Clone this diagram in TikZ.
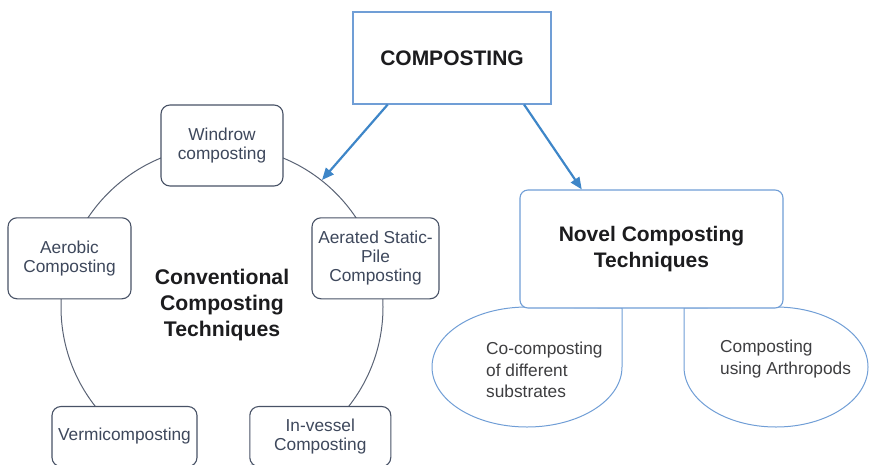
\documentclass[tikz,border=0pt]{standalone}
\usepackage{fontspec}
\setmainfont{Liberation Sans}
\usetikzlibrary{arrows.meta,calc}
\definecolor{flowblue}{RGB}{62,134,200}
\definecolor{paleblue}{RGB}{112,158,214}
\definecolor{slateline}{RGB}{72,82,102}
\definecolor{labelgray}{RGB}{62,72,92}
\definecolor{headblack}{RGB}{28,28,30}

\begin{document}
\begin{tikzpicture}[x=1pt,y=1pt,yscale=-1,
  techbox/.style={draw=slateline,line width=1.1pt,rounded corners=9pt,fill=white,text=labelgray,align=center,inner sep=0pt,font=\fontsize{17.3}{19}\selectfont},
  headtext/.style={text=headblack,align=center,inner sep=0pt,font=\bfseries\fontsize{21}{26.5}\selectfont},
  lobe/.style={draw=paleblue,line width=1pt,fill=white},
  lobetext/.style={text=headblack!85,align=left,anchor=west,inner sep=0pt,font=\fontsize{17.3}{21.5}\selectfont},
  flow/.style={draw=flowblue,line width=2.2pt,-{Triangle[length=12pt,width=10pt]}}]
\useasboundingbox (0,0) rectangle (870,464);
\clip (0,0) rectangle (870,464);

%Ring behind the conventional techniques
\draw [draw=slateline!90,line width=1pt] (222,307) circle [radius=161];

% Conventional techniques round the ring
\node [techbox,minimum width=122,minimum height=81] (windrow) at (222,145.5) {Windrow\\composting};
\node [techbox,minimum width=123,minimum height=81] (aerobic) at (69.5,258.3) {Aerobic\\Composting};
\node [techbox,minimum width=127,minimum height=81] (aerated) at (375.5,258.3) {Aerated Static-\\Pile\\Composting};
\node [techbox,minimum width=145,minimum height=60] (vermi) at (124.5,436.5) {Vermicomposting};
\node [techbox,minimum width=141,minimum height=60] (invessel) at (320.3,436.5) {In-vessel\\Composting};
% Text Node
\node [headtext,font=\bfseries\fontsize{21.2}{25.7}\selectfont] (conv) at (222,305) {Conventional\\Composting\\Techniques};

%Shape: left lobe
\draw [lobe] (622,308) -- (622,367) arc [start angle=0,end angle=90,x radius=95,y radius=60]
  arc [start angle=90,end angle=180,x radius=95,y radius=60]
  arc [start angle=180,end angle=270,x radius=95,y radius=60] -- cycle;
%Shape: right lobe
\draw [lobe] (684,308) -- (684,367) arc [start angle=180,end angle=90,x radius=92,y radius=60]
  arc [start angle=90,end angle=0,x radius=92,y radius=60]
  arc [start angle=0,end angle=-90,x radius=92,y radius=60] -- cycle;
\node [lobetext] (cocomp) at (486,370) {Co-composting\\of different\\substrates};
\node [lobetext] (arthro) at (720,359) {Composting\\using Arthropods};

% Top and novel boxes
\node [headtext,draw=paleblue,line width=1.1pt,fill=white,minimum width=198,minimum height=92] (composting) at (452,58) {COMPOSTING};
\node [headtext,draw=paleblue,line width=1.1pt,fill=white,rounded corners=8pt,minimum width=263,minimum height=118] (novel) at (651.5,249) {Novel Composting\\Techniques};

%Arrows
\coordinate (ringhit) at (322,180);
\draw [flow] ($(composting.south west)!0.177!(composting.south east)$) -- (ringhit);
\draw [flow] ($(composting.south west)!0.862!(composting.south east)$) -- ($(novel.north west)!0.236!(novel.north east)$);

\end{tikzpicture}
\end{document}
